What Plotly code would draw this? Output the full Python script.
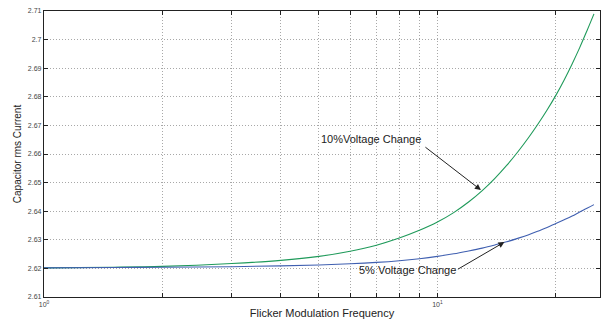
import plotly.graph_objects as go
import math

freq = [1, 1.5, 2, 3, 4, 5, 6, 7, 8, 9, 10, 11, 12, 13, 14, 15, 16, 17, 18, 19, 20, 21, 22, 23, 24, 25]
i_10pct = [2.6202, 2.6204, 2.6207, 2.6217, 2.6228, 2.6242, 2.6260, 2.6281, 2.6306, 2.6333, 2.6362,
           2.6395, 2.6432, 2.6472, 2.6515, 2.6560, 2.6607, 2.6655, 2.6704, 2.6754, 2.6805, 2.6859,
           2.6915, 2.6972, 2.7031, 2.7090]
i_5pct = [2.6202, 2.6203, 2.6204, 2.6206, 2.6209, 2.6212, 2.6216, 2.6221, 2.6227, 2.6234, 2.6242,
          2.6251, 2.6261, 2.6271, 2.6282, 2.6293, 2.6305, 2.6317, 2.6330, 2.6343, 2.6357, 2.6370,
          2.6383, 2.6397, 2.6410, 2.6423]

y_ticks = [2.61, 2.62, 2.63, 2.64, 2.65, 2.66, 2.67, 2.68, 2.69, 2.70, 2.71]
y_tick_text = ["2.61", "2.62", "2.63", "2.64", "2.65", "2.66", "2.67", "2.68", "2.69", "2.7", "2.71"]
x_ticks = [1, 2, 3, 4, 5, 6, 7, 8, 9, 10, 20]
x_tick_text = ["10<sup>0</sup>", "", "", "", "", "", "", "", "", "10<sup>1</sup>", ""]

green = "#1f9a5a"
blue = "#3f5fb0"

W, H = 608, 322
L, R, T, B = 44, 8, 11, 25
pw, ph = W - L - R, H - T - B


def px_to_paper(px, py):
    return (px - L) / pw, (H - B - py) / ph


fig = go.Figure()
fig.add_trace(go.Scatter(x=freq, y=i_10pct, mode="lines", line=dict(color=green, width=1.1),
                         line_shape="spline", showlegend=False))
fig.add_trace(go.Scatter(x=freq, y=i_5pct, mode="lines", line=dict(color=blue, width=1.1),
                         line_shape="spline", showlegend=False))

axis_common = dict(showline=True, linecolor="#222", linewidth=1.3, mirror="allticks",
                   ticks="inside", ticklen=4, tickcolor="#222", automargin=False,
                   showgrid=True, gridcolor="#a8a8a8", griddash="1px,2px", gridwidth=1,
                   zeroline=False, tickfont=dict(family="Liberation Sans, Arial", size=7, color="#444"))

fig.update_xaxes(type="log", range=[0, math.log10(25.9)], tickvals=x_ticks, ticktext=x_tick_text,
                 title=dict(text="Flicker Modulation Frequency", standoff=2,
                            font=dict(family="Liberation Sans, Arial", size=11, color="#222")),
                 **axis_common)
fig.update_yaxes(range=[2.61, 2.71], tickvals=y_ticks, ticktext=y_tick_text,
                 title=dict(text="Capacitor rms Current", standoff=4,
                            font=dict(family="Liberation Sans, Arial", size=10, color="#222")),
                 **axis_common)

arrow_style = dict(text="", showarrow=True, arrowhead=2, arrowsize=1.2, arrowwidth=1, arrowcolor="#222")
# arrow to the 10% curve (tail offset in pixels from head)
fig.add_annotation(x=math.log10(12.9), y=2.6474, xref="x", yref="y", ax=-57, ay=-44, **arrow_style)
# arrow to the 5% curve
fig.add_annotation(x=math.log10(14.8), y=2.6292, xref="x", yref="y", ax=-48, ay=28, **arrow_style)

ann_font = dict(family="Liberation Sans, Arial", size=11, color="#222")
tx, ty = px_to_paper(371, 139)
fig.add_annotation(x=tx, y=ty, xref="paper", yref="paper", text="10%Voltage Change",
                   showarrow=False, font=ann_font)
tx, ty = px_to_paper(407, 278)
fig.add_annotation(x=tx, y=ty, xref="paper", yref="paper", text="5% Voltage Change",
                   showarrow=False, font=ann_font)

fig.update_layout(width=W, height=H, margin=dict(l=L, r=R, t=T, b=B),
                  plot_bgcolor="white", paper_bgcolor="white")

fig.write_html("out.html")
